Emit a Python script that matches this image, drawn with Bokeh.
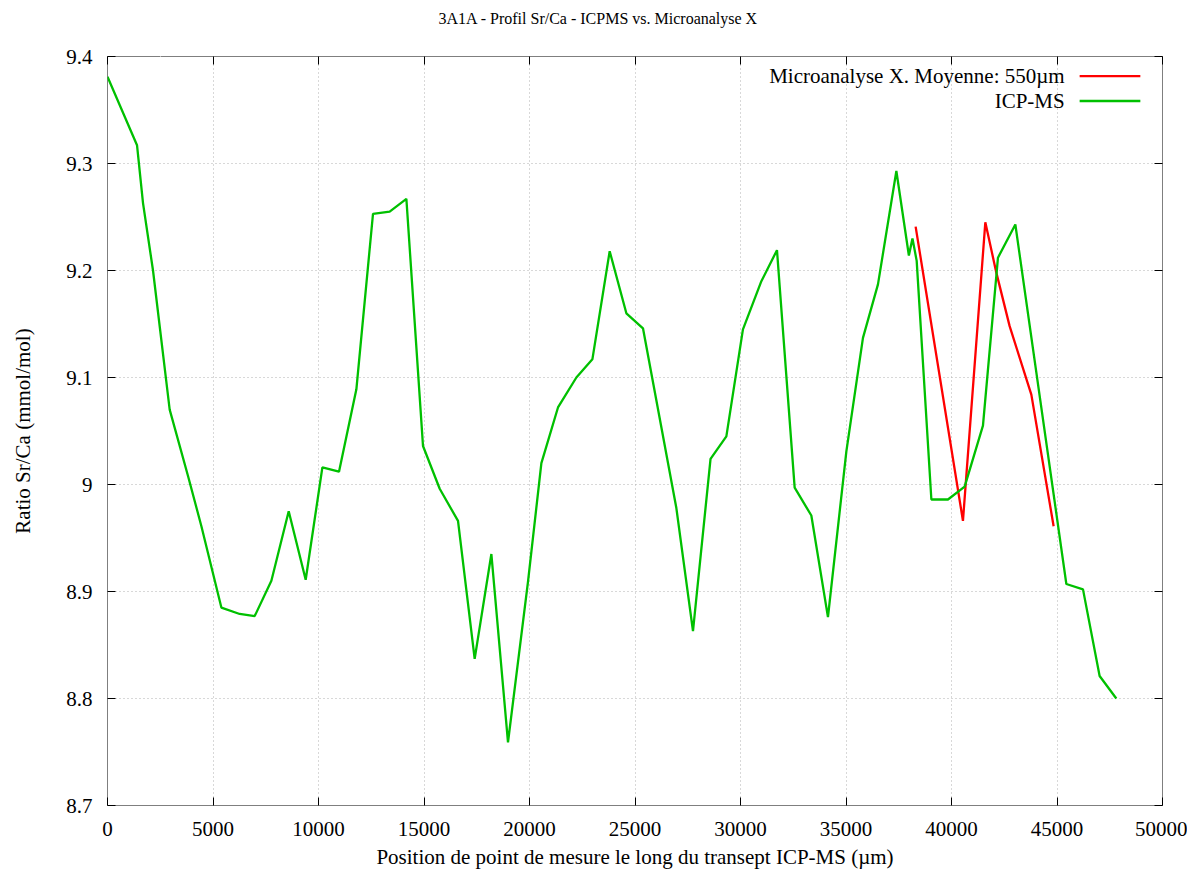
from bokeh.plotting import figure
from bokeh.models import (LinearAxis, FixedTicker, CustomJSTickFormatter, Range1d, Label)
from bokeh.embed import file_html
from bokeh.resources import INLINE

# ---- data ----
icp_x = [0, 1400, 1683, 2157, 2947, 3816, 4450, 5397, 6265, 6976, 7767, 8588, 9393,
         10184, 10972, 11795, 12583, 13374, 14165, 14953, 15744, 16612, 17402, 18193,
         18981, 19928, 20563, 21350, 22221, 22980, 23800, 24591, 25378, 26960, 27748,
         28580, 29330, 30116, 30989, 31729, 32567, 33357, 34145, 35017, 35804, 36515,
         37387, 37980, 38150, 38350, 39046, 39832, 40623, 41491, 42202, 43026, 45443,
         46232, 47020, 47811]
icp_y = [9.381, 9.317, 9.263, 9.200, 9.070, 9.008, 8.961, 8.885, 8.879, 8.877, 8.910,
         8.975, 8.911, 9.016, 9.012, 9.089, 9.253, 9.255, 9.267, 9.036, 8.996, 8.966,
         8.837, 8.935, 8.759, 8.909, 9.020, 9.072, 9.100, 9.117, 9.218, 9.160, 9.146,
         8.978, 8.863, 9.024, 9.045, 9.145, 9.190, 9.219, 8.997, 8.971, 8.876, 9.031,
         9.137, 9.187, 9.293, 9.214, 9.230, 9.209, 8.986, 8.986, 8.998, 9.055, 9.212,
         9.243, 8.907, 8.902, 8.821, 8.800]

micro_x = [38300, 40543, 41603, 42125, 42755, 43784, 44840]
micro_y = [9.241, 8.966, 9.245, 9.198, 9.148, 9.084, 8.961]

x_ticks = [0, 5000, 10000, 15000, 20000, 25000, 30000, 35000, 40000, 45000, 50000]
y_ticks = [8.7, 8.8, 8.9, 9.0, 9.1, 9.2, 9.3, 9.4]

title_text = "3A1A - Profil Sr/Ca - ICPMS vs. Microanalyse X"
labels = ["Microanalyse X. Moyenne: 550\u00b5m", "ICP-MS"]
colors = ["#ff0000", "#00c000"]

FONT = "Liberation Serif"

p = figure(width=1187, height=871, output_backend="svg", toolbar_location=None,
           x_range=Range1d(0, 50000), y_range=Range1d(8.7, 9.4),
           min_border_left=107, min_border_right=25, min_border_top=56, min_border_bottom=66,
           x_axis_label="Position de point de mesure le long du transept ICP-MS (\u00b5m)",
           y_axis_label="Ratio Sr/Ca (mmol/mol)")

p.title.text = title_text
p.title.text_font = FONT
p.title.text_font_size = "16px"
p.title.text_font_style = "normal"
p.title.text_color = "#000000"
p.title.align = "left"
p.title.offset = 331
p.title.standoff = 4

p.outline_line_color = "#7f7f7f"
p.outline_line_width = 1
p.background_fill_color = "white"
p.border_fill_color = "white"

yfmt = CustomJSTickFormatter(code="var s = tick.toFixed(1); return s.replace(/\\.0$/, '');")
blank = CustomJSTickFormatter(code="return '';")

for ax in p.xaxis:
    ax.ticker = FixedTicker(ticks=x_ticks)
for ax in p.yaxis:
    ax.ticker = FixedTicker(ticks=y_ticks)
    ax.formatter = yfmt

for ax in p.xaxis + p.yaxis:
    ax.axis_line_color = None
    ax.major_tick_in = 8
    ax.major_tick_out = 0
    ax.major_tick_line_color = "#000000"
    ax.major_tick_line_width = 1
    ax.minor_tick_line_color = None
    ax.major_label_text_font = FONT
    ax.major_label_text_font_size = "21px"
    ax.major_label_text_color = "#000000"
    ax.axis_label_text_font = FONT
    ax.axis_label_text_font_size = "21px"
    ax.axis_label_text_font_style = "normal"
    ax.axis_label_text_color = "#000000"

p.xaxis.major_label_standoff = 16
p.xaxis.axis_label_standoff = 6
p.yaxis.major_label_standoff = 15
p.yaxis.axis_label_standoff = 28

# mirror axes (ticks only)
top = LinearAxis(ticker=FixedTicker(ticks=x_ticks), formatter=blank, axis_line_color=None,
                 major_tick_in=8, major_tick_out=0, minor_tick_line_color=None,
                 major_label_standoff=0, major_tick_line_color="#000000")
right = LinearAxis(ticker=FixedTicker(ticks=y_ticks), formatter=blank, axis_line_color=None,
                   major_tick_in=8, major_tick_out=0, minor_tick_line_color=None,
                   major_label_standoff=0, major_tick_line_color="#000000")
# white (invisible) spacer between the frame and the title
spacer = LinearAxis(ticker=FixedTicker(ticks=[2500]), formatter=blank, axis_line_color=None,
                    major_tick_in=0, major_tick_out=28, minor_tick_line_color=None,
                    major_label_standoff=0, major_tick_line_color="#ffffff")
p.add_layout(top, "above")
p.add_layout(spacer, "above")
p.add_layout(right, "right")

p.xgrid.ticker = FixedTicker(ticks=x_ticks)
p.ygrid.ticker = FixedTicker(ticks=y_ticks)
for g in (p.xgrid, p.ygrid):
    g.grid_line_color = "#b0b0b0"
    g.grid_line_dash = "1 3"
    g.grid_line_width = 1

p.line(micro_x, micro_y, line_color=colors[0], line_width=2.3)
p.line(icp_x, icp_y, line_color=colors[1], line_width=2.3)

# legend (gnuplot style: text right-aligned, sample on the right)
leg_text_x = 45364
leg_y = [9.3816, 9.3584]
leg_x0, leg_x1 = 46073, 48950
for lab, col, yy in zip(labels, colors, leg_y):
    p.add_layout(Label(x=leg_text_x, y=yy, text=lab, text_align="right",
                       text_baseline="middle", text_font=FONT, text_font_size="21px",
                       text_color="#000000"))
    p.segment(x0=[leg_x0], y0=[yy], x1=[leg_x1], y1=[yy], line_color=col, line_width=2.3)

open("out.html", "w").write(file_html(p, INLINE))
